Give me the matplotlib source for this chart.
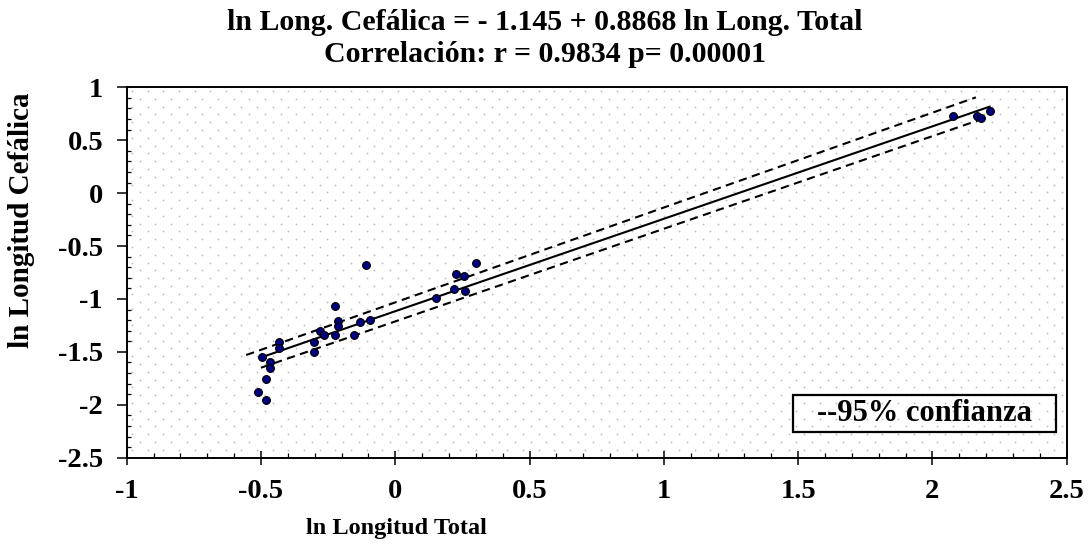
import numpy as np
import matplotlib
matplotlib.use("Agg")
import matplotlib.pyplot as plt
from matplotlib.ticker import MultipleLocator, FormatStrFormatter
from matplotlib.patches import Rectangle

# ---- data ----
x_vals = [-0.496, -0.468, -0.468, -0.481, -0.511, -0.481, -0.431, -0.431,
          -0.302, -0.302, -0.281, -0.264, -0.226, -0.226, -0.213, -0.213,
          -0.153, -0.131, -0.108, -0.093, 0.153, 0.219, 0.228, 0.256,
          0.259, 0.302, 2.078, 2.166, 2.181, 2.213]
y_vals = [-1.546, -1.599, -1.653, -1.757, -1.880, -1.953, -1.410, -1.461,
          -1.410, -1.499, -1.303, -1.341, -1.341, -1.064, -1.212, -1.256,
          -1.341, -1.218, -0.680, -1.202, -0.994, -0.906, -0.765, -0.784,
          -0.925, -0.664, 0.732, 0.732, 0.710, 0.779]

fit_x = [-0.499, 2.213]
fit_y = [-1.552, 0.817]
upper_x = [-0.555, 2.162]
upper_y = [-1.530, 0.905]
lower_x = [-0.500, 2.203]
lower_y = [-1.650, 0.716]

x_ticks = [-1, -0.5, 0, 0.5, 1, 1.5, 2, 2.5]
y_ticks = [1, 0.5, 0, -0.5, -1, -1.5, -2, -2.5]

title_lines = ["ln Long. Cefálica = - 1.145 + 0.8868 ln Long. Total",
               "Correlación: r = 0.9834 p= 0.00001"]
x_label = "ln Longitud Total"
y_label = "ln Longitud Cefálica"
legend_text = "--95% confianza"

# ---- style ----
plt.rcParams['font.family'] = ['Liberation Serif', 'DejaVu Serif']
plt.rcParams['font.weight'] = 'bold'

fig = plt.figure(figsize=(10.9, 5.48), dpi=100)
ax = fig.add_axes([0.1162, 0.1648, 0.8624, 0.6759])

ax.set_xlim(-1, 2.5)
ax.set_ylim(-2.5, 1)

# dotted background pattern (decoration)
dx = 15.6 / 268.0
dy = 7.8 / 105.8
bx, by = [], []
for i, yy in enumerate(np.arange(1 - 0.035, -2.5, -dy)):
    off = 0.0 if i % 2 == 0 else dx / 2
    xs = np.arange(-1 + 0.02 + off, 2.5, dx)
    bx.extend(xs)
    by.extend([yy] * len(xs))
ax.scatter(bx, by, s=1.8, color='#c0c0c0', linewidths=0, zorder=0)

ax.plot(fit_x, fit_y, color='black', lw=1.5, zorder=2)
ax.plot(upper_x, upper_y, color='black', lw=1.5, ls=(0, (4, 2.6)), zorder=2)
ax.plot(lower_x, lower_y, color='black', lw=1.5, ls=(0, (4, 2.6)), zorder=2)
ax.plot(x_vals, y_vals, 'o', ms=5.6, mfc='#000080', mec='black', mew=0.8,
        zorder=3, ls='none')

ax.set_xticks(x_ticks)
ax.set_yticks(y_ticks)
ax.xaxis.set_major_formatter(FormatStrFormatter('%g'))
ax.yaxis.set_major_formatter(FormatStrFormatter('%g'))
ax.xaxis.set_minor_locator(MultipleLocator(0.1))
ax.yaxis.set_minor_locator(MultipleLocator(0.1))
ax.tick_params(axis='x', which='major', direction='inout', length=10, width=1.1,
               labelsize=20.5, pad=10)
ax.tick_params(axis='x', which='minor', direction='in', length=3.6, width=0.9)
ax.tick_params(axis='y', which='major', direction='out', length=7, width=1.1,
               labelsize=20.5, pad=10)
ax.tick_params(axis='y', which='minor', direction='in', length=3, width=0.9)

for s in ax.spines.values():
    s.set_linewidth(1.4)
    s.set_color('black')

ax.set_xlabel(x_label, fontsize=17.5, fontweight='bold')
ax.xaxis.set_label_coords(0.2875, -0.163)
ax.set_ylabel(y_label, fontsize=21, fontweight='bold')
ax.yaxis.set_label_coords(-0.097, 0.64)

fig.text(0.5, 1 - 22 / 548, title_lines[0], ha='center', va='center',
         fontsize=21.5, fontweight='bold')
fig.text(0.5, 1 - 55 / 548, title_lines[1], ha='center', va='center',
         fontsize=21.5, fontweight='bold')

# legend box
ax.add_patch(Rectangle((0.709, 0.070), 0.280, 0.099, transform=ax.transAxes,
                       fill=False, ec='black', lw=1.6, zorder=4))
ax.text(0.849, 0.118, legend_text, transform=ax.transAxes, ha='center',
        va='center', fontsize=22, fontweight='bold', zorder=5)

fig.savefig("out.png", dpi=100)
